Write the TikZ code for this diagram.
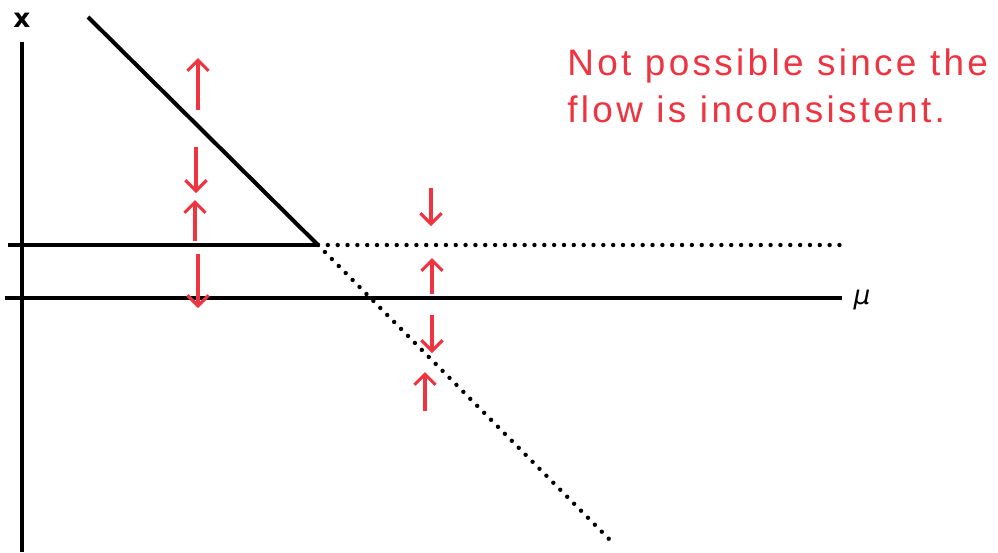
\documentclass[tikz,border=0pt]{standalone}
\usepackage{fontspec}
\newfontfamily\labfont{DejaVu Sans}
\newfontfamily\handfont[LetterSpace=9]{Liberation Sans}
\usetikzlibrary{arrows.meta}
\definecolor{pen}{RGB}{238,52,64}
\tikzset{
  axisline/.style={line width=2.1pt, black},
  branch/.style={line width=2.3pt, black},
  dotbranch/.style={line width=2.5pt, black, line cap=round, dash pattern=on 0pt off 5.6pt},
  flow/.style={line width=2pt, pen, -{Straight Barb[length=6pt,width=12pt,line width=1.8pt]}},
  lab/.style={font=\labfont\fontsize{15}{17}\selectfont, inner sep=0pt},
  hand/.style={font=\handfont\fontsize{21}{24}\selectfont, text=pen, inner sep=0pt, anchor=base west}
}
\begin{document}
\begin{tikzpicture}[x=0.02cm,y=-0.02cm]
\useasboundingbox[fill=white] (0,0) rectangle (998,552);
% axes
\coordinate (ytop) at (22,42);
\coordinate (ybot) at (22,552);
\coordinate (mleft) at (5,298);
\coordinate (mright) at (842,298);
\draw[axisline] (ytop) -- (ybot);
\draw[axisline] (mleft) -- (mright);
\node[lab, font=\labfont\bfseries\fontsize{15}{17}\selectfont] (xlab) at (22,20) {x};
\node[lab, font=\labfont\itshape\fontsize{15}{17}\selectfont] (mulab) at (862,300) {μ};
% branches
\coordinate (hleft) at (8,245);
\coordinate (bif) at (318,245);
\coordinate (hright) at (843,245);
\coordinate (dtop) at (88,17);
\coordinate (dbot) at (610,540);
\draw[branch] (hleft) -- (bif);
\draw[branch] (dtop) -- (bif);
\draw[dotbranch] (bif) -- (hright);
\draw[dotbranch] (bif) -- (dbot);
% flow arrows, left
\coordinate (a1s) at (198,110); \coordinate (a1e) at (198,58);
\coordinate (a2s) at (196,147); \coordinate (a2e) at (196,193);
\coordinate (a3s) at (195,241); \coordinate (a3e) at (195,200);
\coordinate (a4s) at (198,254); \coordinate (a4e) at (198,308);
\draw[flow] (a1s) -- (a1e);
\draw[flow] (a2s) -- (a2e);
\draw[flow] (a3s) -- (a3e);
\draw[flow] (a4s) -- (a4e);
% flow arrows, right
\coordinate (b1s) at (431,188); \coordinate (b1e) at (431,226);
\coordinate (b2s) at (432,294); \coordinate (b2e) at (432,258);
\coordinate (b3s) at (432,315); \coordinate (b3e) at (432,353);
\coordinate (b4s) at (425,411); \coordinate (b4e) at (425,372);
\draw[flow] (b1s) -- (b1e);
\draw[flow] (b2s) -- (b2e);
\draw[flow] (b3s) -- (b3e);
\draw[flow] (b4s) -- (b4e);
% note
\node[hand] (note1) at (567,75) {Not possible since the};
\node[hand] (note2) at (567,122) {flow is inconsistent.};
\end{tikzpicture}
\end{document}
